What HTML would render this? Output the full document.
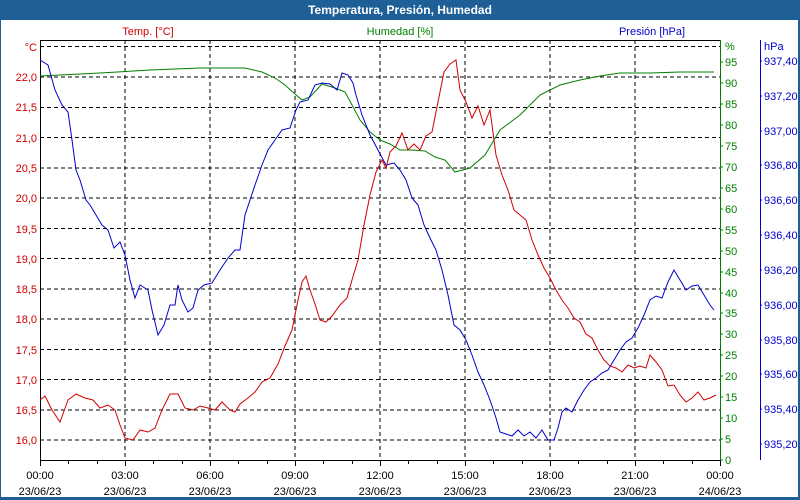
<!DOCTYPE html>
<html><head><meta charset="utf-8"><style>
html,body{margin:0;padding:0;background:#fff;}
svg{display:block;font-family:"Liberation Sans","DejaVu Sans",sans-serif;}
</style></head><body>
<svg width="800" height="500" viewBox="0 0 800 500" xmlns="http://www.w3.org/2000/svg">
<rect x="0" y="0" width="800" height="500" fill="#1e5f97"/>
<rect x="1" y="20" width="797" height="477" fill="#fff"/>
<text x="400" y="14" text-anchor="middle" font-size="12" font-weight="bold" fill="#fff">Temperatura, Presión, Humedad</text>
<g stroke="#000" stroke-dasharray="4,3" stroke-width="1">
<line x1="40" y1="46.5" x2="720" y2="46.5"/><line x1="40" y1="77" x2="720" y2="77"/><line x1="40" y1="107.5" x2="720" y2="107.5"/><line x1="40" y1="137.5" x2="720" y2="137.5"/><line x1="40" y1="168" x2="720" y2="168"/><line x1="40" y1="198" x2="720" y2="198"/><line x1="40" y1="228.5" x2="720" y2="228.5"/><line x1="40" y1="258.5" x2="720" y2="258.5"/><line x1="40" y1="289" x2="720" y2="289"/><line x1="40" y1="319" x2="720" y2="319"/><line x1="40" y1="349.5" x2="720" y2="349.5"/><line x1="40" y1="379.5" x2="720" y2="379.5"/><line x1="40" y1="410" x2="720" y2="410"/><line x1="40" y1="440" x2="720" y2="440"/>
<line x1="125" y1="40" x2="125" y2="460"/><line x1="210" y1="40" x2="210" y2="460"/><line x1="295" y1="40" x2="295" y2="460"/><line x1="380" y1="40" x2="380" y2="460"/><line x1="465" y1="40" x2="465" y2="460"/><line x1="550" y1="40" x2="550" y2="460"/><line x1="635" y1="40" x2="635" y2="460"/>
</g>
<line x1="40" y1="40.5" x2="720" y2="40.5" stroke="#000"/>
<line x1="40.5" y1="40" x2="40.5" y2="461" stroke="#000"/>
<line x1="40" y1="460.5" x2="720" y2="460.5" stroke="#000"/>
<line x1="720.5" y1="40" x2="720.5" y2="461" stroke="#008000"/>
<line x1="760.5" y1="40" x2="760.5" y2="460" stroke="#0000cc"/>
<g stroke="#000">
<path d="M68.5 460v4M97.5 460v4M125.5 460v6M153.5 460v4M182.5 460v4M210.5 460v6M238.5 460v4M267.5 460v4M295.5 460v6M323.5 460v4M352.5 460v4M380.5 460v6M408.5 460v4M437.5 460v4M465.5 460v6M493.5 460v4M522.5 460v4M550.5 460v6M578.5 460v4M607.5 460v4M635.5 460v6M663.5 460v4M692.5 460v4M40.5 460v6M720.5 460v6"/>
</g>
<g font-size="11" fill="#d00000" text-anchor="end">
<text x="37" y="51">°C</text><text x="37" y="81">22,0</text><text x="37" y="111">21,5</text><text x="37" y="142">21,0</text><text x="37" y="172">20,5</text><text x="37" y="202">20,0</text><text x="37" y="233">19,5</text><text x="37" y="263">19,0</text><text x="37" y="293">18,5</text><text x="37" y="323">18,0</text><text x="37" y="354">17,5</text><text x="37" y="384">17,0</text><text x="37" y="414">16,5</text><text x="37" y="444">16,0</text>
<text x="148" y="35" text-anchor="middle">Temp. [°C]</text>
</g>
<text x="400" y="35" font-size="11" fill="#008000" text-anchor="middle">Humedad [%]</text>
<text x="652" y="35" font-size="11" fill="#0000cc" text-anchor="middle">Presión [hPa]</text>
<g font-size="11" fill="#008000">
<text x="725" y="50">%</text>
<text x="725" y="66">95</text><text x="725" y="87">90</text><text x="725" y="108">85</text><text x="725" y="129">80</text><text x="725" y="150">75</text><text x="725" y="171">70</text><text x="725" y="192">65</text><text x="725" y="213">60</text><text x="725" y="234">55</text><text x="725" y="255">50</text><text x="725" y="276">45</text><text x="725" y="297">40</text><text x="725" y="317">35</text><text x="725" y="338">30</text><text x="725" y="359">25</text><text x="725" y="380">20</text><text x="725" y="401">15</text><text x="725" y="422">10</text><text x="725" y="443">5</text><text x="725" y="464">0</text>
</g>
<g stroke="#008000"><path d="M720 62h3M720 83h3M720 104h3M720 125h3M720 146h3M720 167h3M720 188h3M720 209h3M720 230h3M720 251h3M720 272h3M720 293h3M720 313h3M720 334h3M720 355h3M720 376h3M720 397h3M720 418h3M720 439h3M720 460h3"/></g>
<g font-size="11" fill="#0000cc">
<text x="764" y="50">hPa</text>
<text x="764" y="65">937,40</text><text x="764" y="100">937,20</text><text x="764" y="135">937,00</text><text x="764" y="169">936,80</text><text x="764" y="204">936,60</text><text x="764" y="239">936,40</text><text x="764" y="274">936,20</text><text x="764" y="309">936,00</text><text x="764" y="344">935,80</text><text x="764" y="378">935,60</text><text x="764" y="413">935,40</text><text x="764" y="448">935,20</text>
</g>
<g stroke="#0000cc"><path d="M760 61h2M760 96h2M760 131h2M760 165h2M760 200h2M760 235h2M760 270h2M760 305h2M760 340h2M760 374h2M760 409h2M760 444h2"/></g>
<g font-size="11" fill="#000" text-anchor="middle">
<text x="40" y="479">00:00</text><text x="40" y="495">23/06/23</text>
<text x="125" y="479">03:00</text><text x="125" y="495">23/06/23</text>
<text x="210" y="479">06:00</text><text x="210" y="495">23/06/23</text>
<text x="295" y="479">09:00</text><text x="295" y="495">23/06/23</text>
<text x="380" y="479">12:00</text><text x="380" y="495">23/06/23</text>
<text x="465" y="479">15:00</text><text x="465" y="495">23/06/23</text>
<text x="550" y="479">18:00</text><text x="550" y="495">23/06/23</text>
<text x="635" y="479">21:00</text><text x="635" y="495">23/06/23</text>
<text x="720" y="479">00:00</text><text x="720" y="495">24/06/23</text>
</g>
<polyline fill="none" stroke="#008000" stroke-width="1" points="40,76 100,73 150,70 200,68 245,68 262,72 275,78 285,85 295,94 302,100 310,97 322,84 335,88 345,92 352,105 360,120 370,132 380,140 390,144 400,150 412,150 425,151 435,157 445,160 455,172 470,168 485,155 500,130 520,115 540,95 560,85 580,80 600,76 620,73 650,73 680,72 714,72"/>
<polyline fill="none" stroke="#0000cc" stroke-width="1" points="40,60 48,65 55,90 62,105 68,112 72,140 76,170 80,180 86,200 90,205 96,215 102,225 108,230 114,248 120,242 125,255 130,280 135,298 140,285 148,290 152,310 158,335 164,325 170,305 175,305 178,285 182,300 188,312 193,308 198,290 204,285 212,283 220,270 228,258 235,250 240,250 245,215 250,200 255,185 262,165 268,150 275,140 282,130 290,128 296,110 300,102 308,100 315,85 322,83 330,84 337,90 342,73 348,75 353,83 356,95 362,115 370,135 378,150 386,165 394,163 400,170 406,180 412,198 418,205 424,225 430,238 436,250 442,270 448,295 454,325 460,330 466,340 472,355 478,372 484,385 490,400 496,418 500,432 506,434 512,436 518,430 524,436 530,432 536,438 542,430 548,440 554,440 558,428 562,412 566,408 572,412 578,400 584,390 590,382 596,378 602,373 608,370 614,360 620,350 626,342 632,338 638,328 644,315 650,300 656,296 662,298 668,282 674,270 680,280 686,290 692,286 698,285 704,295 710,305 714,310"/>
<polyline fill="none" stroke="#d00000" stroke-width="1" points="40,400 45,396 52,410 60,422 68,400 76,394 85,398 93,400 100,408 108,405 115,410 120,425 125,438 133,440 140,430 148,432 155,428 162,410 170,394 178,394 185,408 193,410 200,406 208,408 215,410 222,402 230,410 235,412 240,404 248,398 255,392 262,382 270,378 278,364 285,346 292,330 298,300 302,282 306,276 310,290 315,304 320,320 326,322 332,316 340,305 347,298 352,280 358,260 364,225 370,195 376,172 382,160 386,168 390,152 396,146 402,133 408,150 414,144 420,150 426,136 432,132 438,102 444,72 450,64 456,60 460,90 466,102 472,118 478,106 484,125 490,110 496,155 502,175 508,190 514,210 520,215 526,220 532,240 538,255 544,268 550,278 556,290 562,300 568,308 574,318 580,322 586,334 592,338 598,350 604,360 610,366 616,368 622,372 628,365 634,368 640,366 646,368 650,355 656,362 662,370 668,386 674,385 680,395 686,402 692,398 698,392 704,400 710,398 716,395"/>
</svg>
</body></html>
